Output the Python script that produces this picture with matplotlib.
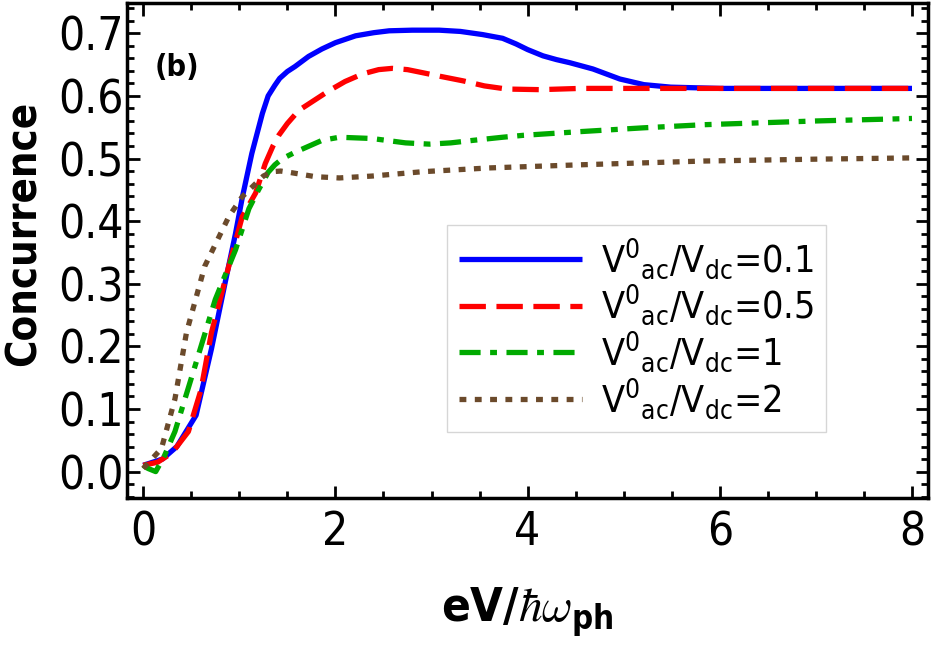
import numpy as np
import matplotlib.pyplot as plt
from matplotlib.ticker import MultipleLocator

# Concurrence vs eV/hbar w_ph for four V0_ac/V_dc ratios
x_01 = [0, 0.2, 0.35, 0.55, 0.71, 0.85, 0.96, 1.03, 1.13, 1.24, 1.3, 1.37, 1.42, 1.5, 1.58, 1.72, 1.86, 2.0,
        2.21, 2.4, 2.56, 2.8, 3.08, 3.3, 3.53, 3.74, 3.88, 4.0, 4.16, 4.3, 4.44, 4.68, 4.96, 5.21, 5.49, 6.0, 7.0, 8.0]
y_01 = [0.01, 0.02, 0.04, 0.09, 0.196, 0.30, 0.38, 0.437, 0.508, 0.572, 0.600, 0.617, 0.628, 0.639, 0.647, 0.663, 0.675, 0.685,
        0.696, 0.701, 0.704, 0.705, 0.705, 0.703, 0.698, 0.692, 0.683, 0.674, 0.664, 0.658, 0.653, 0.643, 0.627, 0.618, 0.614, 0.612, 0.612, 0.612]

x_05 = [0, 0.15, 0.3, 0.47, 0.6, 0.71, 0.89, 1.03, 1.17, 1.27, 1.35, 1.41, 1.5, 1.62, 1.93, 2.1, 2.28, 2.45, 2.59,
        2.75, 2.91, 3.1, 3.33, 3.55, 3.78, 4.13, 4.55, 5.0, 6.0, 7.0, 8.0]
y_05 = [0.01, 0.015, 0.03, 0.064, 0.13, 0.222, 0.328, 0.407, 0.445, 0.492, 0.52, 0.537, 0.556, 0.577, 0.608, 0.623, 0.635, 0.642, 0.644,
        0.642, 0.637, 0.631, 0.624, 0.616, 0.611, 0.61, 0.612, 0.612, 0.612, 0.612, 0.612]

x_1 = [0, 0.05, 0.13, 0.22, 0.33, 0.54, 0.75, 0.96, 1.1, 1.2, 1.3, 1.37, 1.45, 1.58, 1.86, 2.04, 2.38, 2.73, 2.98,
       3.2, 3.43, 3.74, 3.95, 4.55, 5.2, 5.83, 7.0, 8.0]
y_1 = [0.01, 0.005, 0.0, 0.025, 0.064, 0.169, 0.275, 0.354, 0.42, 0.45, 0.478, 0.49, 0.5, 0.51, 0.529, 0.534, 0.532, 0.525, 0.523,
       0.525, 0.529, 0.534, 0.537, 0.543, 0.549, 0.554, 0.56, 0.564]

x_2 = [0, 0.03, 0.19, 0.33, 0.45, 0.64, 0.89, 1.03, 1.17, 1.25, 1.34, 1.43, 1.52, 1.79, 2.04, 2.38, 2.91, 3.6,
       4.55, 5.83, 7.0, 8.0]
y_2 = [0.005, 0.01, 0.037, 0.116, 0.222, 0.328, 0.407, 0.439, 0.46, 0.472, 0.479, 0.48, 0.478, 0.471, 0.469, 0.472, 0.479, 0.485,
       0.49, 0.496, 0.499, 0.501]

labels = [r'V$^{0}$$_{\rm ac}$/V$_{\rm dc}$=0.1', r'V$^{0}$$_{\rm ac}$/V$_{\rm dc}$=0.5',
          r'V$^{0}$$_{\rm ac}$/V$_{\rm dc}$=1', r'V$^{0}$$_{\rm ac}$/V$_{\rm dc}$=2']

plt.rcParams['font.family'] = ['DejaVu Sans']
plt.rcParams['font.stretch'] = 'condensed'
plt.rcParams['mathtext.fontset'] = 'dejavusans'

fig = plt.figure(figsize=(9.33, 6.5), dpi=100)
ax = fig.add_axes([0.136, 0.234, 0.859, 0.761])

ax.plot(x_01, y_01, color='#0000ff', lw=3.8, label=labels[0], solid_capstyle='butt')
ax.plot(x_05, y_05, color='#ff0000', lw=3.8, dashes=(5, 2), label=labels[1])
ax.plot(x_1, y_1, color='#00aa00', lw=3.8, dashes=(4, 1.8, 1.3, 1.8), label=labels[2])
ax.plot(x_2, y_2, color='#6b4a2b', lw=3.8, dashes=(1.3, 1.6), label=labels[3])

ax.set_xlim(-0.17, 8.17)
ax.set_ylim(-0.042, 0.748)
ax.xaxis.set_major_locator(MultipleLocator(2))
ax.xaxis.set_minor_locator(MultipleLocator(0.5))
ax.yaxis.set_major_locator(MultipleLocator(0.1))
ax.yaxis.set_minor_locator(MultipleLocator(0.02))
ax.yaxis.set_major_formatter(plt.FormatStrFormatter('%.1f'))
ax.tick_params(which='both', direction='in', top=True, right=True, width=2)
ax.tick_params(which='major', length=9, labelsize=33, pad=9)
ax.tick_params(axis='y', which='major', pad=2.5)
ax.tick_params(which='minor', length=5)
for s in ax.spines.values():
    s.set_linewidth(2.5)

ax.set_ylabel('Concurrence', fontsize=30, fontweight='bold')
ax.yaxis.set_label_coords(-0.103, 0.535)
xl = ax.set_xlabel(r'eV/$\hbar\omega_{\mathregular{ph}}$', fontsize=34, fontweight='bold', labelpad=22)
xl.set_math_fontfamily('cm')
ax.text(0.035, 0.87, '(b)', transform=ax.transAxes, fontsize=22, fontweight='bold', va='center')

leg = ax.legend(loc='upper left', bbox_to_anchor=(0.40, 0.552), fontsize=27, frameon=True,
                fancybox=False, handlelength=3.3, borderpad=0.3, labelspacing=0.05, handletextpad=0.5,
                borderaxespad=0)
leg.get_frame().set_edgecolor('#cccccc')
leg.get_frame().set_linewidth(1)

fig.savefig('out.png', dpi=100)
